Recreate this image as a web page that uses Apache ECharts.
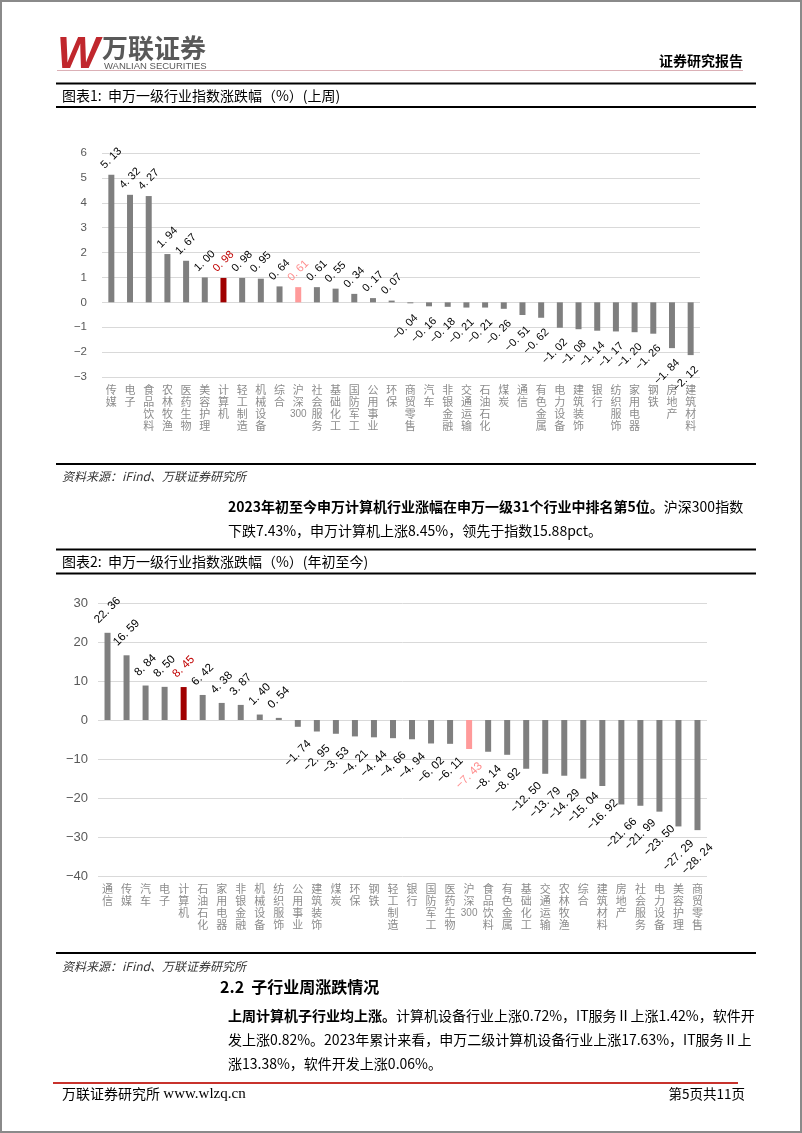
<!DOCTYPE html>
<html><head><meta charset="utf-8">
<script src="https://cdn.jsdelivr.net/npm/echarts@6/dist/echarts.min.js"></script>
<style>html,body{margin:0;padding:0;background:#fff}#c{width:802px;height:1133px}</style>
</head><body><div id="c"></div>
<script>
// ---- Data ----
const cats1 = ['传媒','电子','食品饮料','农林牧渔','医药生物','美容护理','计算机','轻工制造','机械设备','综合','沪深300','社会服务','基础化工','国防军工','公用事业','环保','商贸零售','汽车','非银金融','交通运输','石油石化','煤炭','通信','有色金属','电力设备','建筑装饰','银行','纺织服饰','家用电器','钢铁','房地产','建筑材料'];
const vals1 = [5.13,4.32,4.27,1.94,1.67,1.00,0.98,0.98,0.95,0.64,0.61,0.61,0.55,0.34,0.17,0.07,-0.04,-0.16,-0.18,-0.21,-0.21,-0.26,-0.51,-0.62,-1.02,-1.08,-1.14,-1.17,-1.20,-1.26,-1.84,-2.12];
const cats2 = ['通信','传媒','汽车','电子','计算机','石油石化','家用电器','非银金融','机械设备','纺织服饰','公用事业','建筑装饰','煤炭','环保','钢铁','轻工制造','银行','国防军工','医药生物','沪深300','食品饮料','有色金属','基础化工','交通运输','农林牧渔','综合','建筑材料','房地产','社会服务','电力设备','美容护理','商贸零售'];
const vals2 = [22.36,16.59,8.84,8.50,8.45,6.42,4.38,3.87,1.40,0.54,-1.74,-2.95,-3.53,-4.21,-4.44,-4.66,-4.94,-6.02,-6.11,-7.43,-8.14,-8.92,-12.50,-13.79,-14.29,-15.04,-16.92,-21.66,-21.99,-23.50,-27.29,-28.24];
const yRange1 = [-3, 6, 1];
const yRange2 = [-40, 30, 10];

// ---- Styles ----
const GRAY = '#7f7f7f', DARKRED = '#a00000', PINK = '#ff9a9a';
const CJK = '"Noto Sans CJK SC", sans-serif';
const LAT = '"Liberation Sans", Arial, sans-serif';

function buildData(cats, vals) {
  return vals.map((v, i) => {
    const c = cats[i];
    const isComp = c === '计算机', isHs = c === '沪深300';
    return {
      value: v,
      itemStyle: { color: isComp ? DARKRED : isHs ? PINK : GRAY },
      label: { color: isComp ? '#c00000' : isHs ? '#ff8c8c' : '#000' }
    };
  });
}
const fmt = v => v.toFixed(2).replace('-', '\u2212').replace('.', '. ');
function layoutFn(vals, gapPos, gapNeg, dxNeg) {
  return p => {
    const r = p.rect, h = p.labelRect.height;
    if (vals[p.dataIndex] >= 0)
      return { x: r.x + r.width / 2, y: r.y - gapPos - h / 2, align: 'center', verticalAlign: 'middle' };
    return { x: r.x + r.width / 2 + dxNeg, y: r.y + r.height + gapNeg + h / 2, align: 'center', verticalAlign: 'middle' };
  };
}
const catFmt = n => (n.match(/\d+|./g) || []).map(s => /\d/.test(s) ? '{d|' + s + '}' : s).join('\n');

function T(x, y, text, font, fill, align, extra) {
  return Object.assign({ type: 'text', x: x, y: y, silent: true,
    style: Object.assign({ text: text, font: font, fill: fill || '#000', align: align || 'left', verticalAlign: 'middle' }, extra || {}) });
}
function L(x1, y1, x2, y2, stroke, lw) {
  return { type: 'line', silent: true, shape: { x1, y1, x2, y2 }, style: { stroke, lineWidth: lw } };
}

const graphics = [
  { type: 'rect', silent: true, shape: { x: 1, y: 1, width: 800, height: 1131 }, style: { fill: 'none', stroke: '#8a8a8a', lineWidth: 2 } },
  T(57, 56, 'W', 'italic 900 45px ' + LAT, '#c0272d'),
  T(102, 48, '万联证券', 'bold 26px ' + CJK, '#595959'),
  T(104, 66, 'WANLIAN SECURITIES', '9.5px ' + LAT, '#595959'),
  L(57, 70.5, 743, 70.5, '#dbb0b6', 1),
  T(743, 61, '证券研究报告', 'bold 14px ' + CJK, '#000', 'right'),
  L(56, 83.5, 756, 83.5, '#000', 2),
  T(62, 96, '图表1:  申万一级行业指数涨跌幅（%）(上周)', '14px ' + CJK, '#000'),
  L(56, 107, 756, 107, '#000', 2),
  L(56, 464, 756, 464, '#000', 2),
  T(62, 476, '资料来源：iFind、万联证券研究所', 'italic 12px ' + CJK, '#333'),
  { type: 'text', x: 228, y: 495, silent: true, style: {
      text: '{b|2023年初至今申万计算机行业涨幅在申万一级31个行业中排名第5位。}{n|沪深300指数}\n{n|下跌7.43%，申万计算机上涨8.45%，领先于指数15.88pct。}',
      font: '14px ' + CJK, fill: '#000', verticalAlign: 'top', lineHeight: 24,
      rich: { b: { fontWeight: 'bold', fontSize: 14, fontFamily: CJK, lineHeight: 24 }, n: { fontSize: 14, fontFamily: CJK, lineHeight: 24 } } } },
  L(56, 549.5, 756, 549.5, '#000', 2),
  T(62, 562, '图表2:  申万一级行业指数涨跌幅（%）(年初至今)', '14px ' + CJK, '#000'),
  L(56, 573.5, 756, 573.5, '#000', 2),
  L(56, 953, 756, 953, '#000', 2),
  T(62, 966, '资料来源：iFind、万联证券研究所', 'italic 12px ' + CJK, '#333'),
  T(220, 987, '2.2  子行业周涨跌情况', 'bold 16px ' + CJK, '#000'),
  { type: 'text', x: 228, y: 1004, silent: true, style: {
      text: '{b|上周计算机子行业均上涨。}{n|计算机设备行业上涨0.72%，IT服务Ⅱ上涨1.42%，软件开}\n{n|发上涨0.82%。2023年累计来看，申万二级计算机设备行业上涨17.63%，IT服务Ⅱ上}\n{n|涨13.38%，软件开发上涨0.06%。}',
      font: '14px ' + CJK, fill: '#000', verticalAlign: 'top', lineHeight: 24,
      rich: { b: { fontWeight: 'bold', fontSize: 14, fontFamily: CJK, lineHeight: 24 }, n: { fontSize: 14, fontFamily: CJK, lineHeight: 24 } } } },
  L(53, 1083, 738, 1083, '#c8322c', 2),
  { type: 'text', x: 62, y: 1094, silent: true, style: {
      text: '{a|万联证券研究所} {b|www.wlzq.cn}', fill: '#000', verticalAlign: 'middle',
      rich: { a: { fontSize: 14, fontFamily: CJK }, b: { fontSize: 15, fontFamily: '"Liberation Serif", serif' } } } },
  T(745, 1094, '第5页共11页', '13.5px ' + CJK, '#000', 'right')
];

function axes(idx, cats, range, labelSize, yMargin, xMargin) {
  return {
    x: { type: 'category', gridIndex: idx, data: cats,
      axisLine: { show: false, onZero: false }, axisTick: { show: false },
      axisLabel: { interval: 0, margin: xMargin, color: '#8c8c8c', fontSize: 11, lineHeight: 12, fontFamily: CJK,
        formatter: catFmt, rich: { d: { fontSize: 10, fontFamily: LAT, color: '#8c8c8c', lineHeight: 12 } } } },
    y: { type: 'value', gridIndex: idx, min: range[0], max: range[1], interval: range[2],
      axisLine: { show: false }, axisTick: { show: false },
      splitLine: { lineStyle: { color: '#d9d9d9', width: 1 } },
      axisLabel: { margin: yMargin, color: '#595959', fontSize: labelSize, fontFamily: LAT,
        formatter: v => String(v).replace('-', '\u2212') } }
  };
}
const a1 = axes(0, cats1, yRange1, 11.5, 15, 7);
const a2 = axes(1, cats2, yRange2, 13, 10, 7);

const chart = echarts.init(document.getElementById('c'), null, { renderer: 'canvas' });
chart.setOption({
  animation: false,
  backgroundColor: '#fff',
  grid: [
    { left: 102, right: 102, top: 153, bottom: 756 },
    { left: 98, right: 95, top: 603, bottom: 257 }
  ],
  xAxis: [a1.x, a2.x],
  yAxis: [a1.y, a2.y],
  series: [
    { type: 'bar', xAxisIndex: 0, yAxisIndex: 0, barWidth: 6, data: buildData(cats1, vals1),
      label: { show: true, rotate: 45, fontSize: 11, fontFamily: LAT, formatter: p => fmt(p.value) },
      labelLayout: layoutFn(vals1, 4, 9, -5) },
    { type: 'bar', xAxisIndex: 1, yAxisIndex: 1, barWidth: 6, data: buildData(cats2, vals2),
      label: { show: true, rotate: 45, fontSize: 11.5, fontFamily: LAT, formatter: p => fmt(p.value) },
      labelLayout: layoutFn(vals2, 7, 11, 0) }
  ],
  graphic: graphics
});
</script></body></html>
